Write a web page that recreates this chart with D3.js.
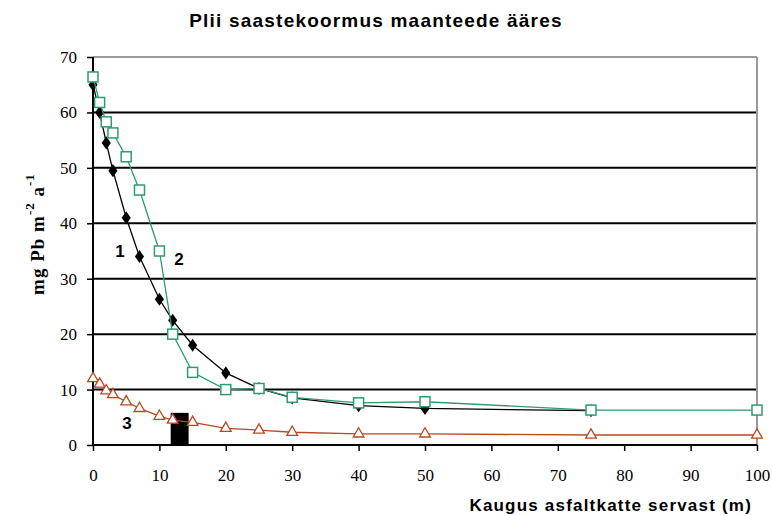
<!DOCTYPE html>
<html>
<head>
<meta charset="utf-8">
<script src="https://cdn.jsdelivr.net/npm/d3@7"></script>
<style>
  body { margin: 0; background: #fff; }
  svg { display: block; }
</style>
</head>
<body>
<svg id="svg" width="772" height="516"></svg>
<script>
// distances (m) and loads for the three series
const x1 = [0, 1, 2, 3, 5, 7, 10, 12, 15, 20, 25, 30, 40, 50, 75]
const y1 = [65, 60, 54.5, 49.5, 41, 34, 26.3, 22.5, 18, 13, 10.2, 8.5, 7.1, 6.6, 6.2]
const x2 = [0, 1, 2, 3, 5, 7, 10, 12, 15, 20, 25, 30, 40, 50, 75, 100]
const y2 = [66.4, 61.8, 58.3, 56.3, 52, 46, 35, 20, 13.1, 10, 10.2, 8.6, 7.6, 7.8, 6.3, 6.3]
const x3 = [0, 1, 2, 3, 5, 7, 10, 12, 15, 20, 25, 30, 40, 50, 75, 100]
const y3 = [12, 11, 9.8, 9.1, 7.8, 6.6, 5.2, 4.5, 4.1, 3, 2.7, 2.3, 2, 2, 1.8, 1.8]
// black block at the road edge
const blockX = [11.7, 14.4]
const blockY = 5.8
const xTicks = [0, 10, 20, 30, 40, 50, 60, 70, 80, 90, 100]
const yTicks = [0, 10, 20, 30, 40, 50, 60, 70]

const svg = d3.select("#svg")
const pLeft = 93, pRight = 757, pTop = 57, pBottom = 445

const x = d3.scaleLinear().domain([0, 100]).range([pLeft, pRight])
const y = d3.scaleLinear().domain([0, 70]).range([pBottom, pTop])

// gridlines
svg.append("g").selectAll("line").data(yTicks.filter(d => d > 0)).enter().append("line")
    .attr("x1", pLeft).attr("x2", pRight)
    .attr("y1", d => y(d)).attr("y2", d => y(d))
    .attr("stroke", d => d === 70 ? "#999" : "#000")
    .attr("stroke-width", 2)

// right border
svg.append("line")
    .attr("x1", pRight).attr("x2", pRight).attr("y1", pTop).attr("y2", pBottom)
    .attr("stroke", "#999").attr("stroke-width", 2)

// axes
const xAxis = svg.append("g").attr("transform", `translate(0,${pBottom})`)
    .call(d3.axisBottom(x).tickValues(xTicks).tickSize(6).tickPadding(18))
const yAxis = svg.append("g").attr("transform", `translate(${pLeft},0)`)
    .call(d3.axisLeft(y).tickValues(yTicks).tickSize(6).tickPadding(10))
;[xAxis, yAxis].forEach(a => {
    a.select(".domain").attr("stroke", "#000").attr("stroke-width", 2)
    a.selectAll(".tick line").attr("stroke", "#000").attr("stroke-width", 1.5)
    a.selectAll("text").attr("font-family", "Liberation Serif, serif")
        .attr("font-size", 17).attr("fill", "#000")
})
xAxis.select(".domain").attr("d", `M${pLeft},0H${pRight}`)
yAxis.select(".domain").attr("d", `M0,${pBottom}V${pTop}`)

// block
svg.append("rect")
    .attr("x", x(blockX[0])).attr("width", x(blockX[1]) - x(blockX[0]))
    .attr("y", y(blockY)).attr("height", y(0) - y(blockY))
    .attr("fill", "#000")

const line = d3.line().x(d => x(d[0])).y(d => y(d[1]))
const s1 = x1.map((d, i) => [d, y1[i]])
const s2 = x2.map((d, i) => [d, y2[i]])
const s3 = x3.map((d, i) => [d, y3[i]])

// series 3 - triangles
svg.append("path").datum(s3).attr("d", line)
    .attr("fill", "none").attr("stroke", "#b8491f").attr("stroke-width", 1.3)
svg.append("g").selectAll("path").data(s3).enter().append("path")
    .attr("d", d3.symbol(d3.symbolTriangle, 50))
    .attr("transform", d => `translate(${x(d[0])},${y(d[1])})`)
    .attr("fill", "#fff").attr("stroke", "#b8491f").attr("stroke-width", 1.3)

// series 1 - diamonds
svg.append("path").datum(s1).attr("d", line)
    .attr("fill", "none").attr("stroke", "#000").attr("stroke-width", 1.3)
svg.append("g").selectAll("path").data(s1).enter().append("path")
    .attr("d", d3.symbol(d3.symbolDiamond, 50))
    .attr("transform", d => `translate(${x(d[0])},${y(d[1])}) scale(1.2,1)`)
    .attr("fill", "#000")

// series 2 - squares
svg.append("path").datum(s2).attr("d", line)
    .attr("fill", "none").attr("stroke", "#2f9c6e").attr("stroke-width", 1.3)
svg.append("g").selectAll("rect").data(s2).enter().append("rect")
    .attr("x", d => x(d[0]) - 5).attr("y", d => y(d[1]) - 5)
    .attr("width", 10).attr("height", 10)
    .attr("fill", "#fff").attr("stroke", "#2f9c6e").attr("stroke-width", 1.5)

// series labels
const labels = [["1", 120, 257], ["2", 179, 265], ["3", 127, 429]]
svg.append("g").selectAll("text").data(labels).enter().append("text")
    .attr("x", d => d[1]).attr("y", d => d[2])
    .attr("text-anchor", "middle")
    .attr("font-family", "Liberation Sans, Arial, sans-serif")
    .attr("font-weight", "bold").attr("font-size", 17)
    .text(d => d[0])

// titles
svg.append("text").attr("x", 376).attr("y", 27).attr("text-anchor", "middle")
    .attr("font-family", "Liberation Sans, Arial, sans-serif")
    .attr("font-weight", "bold").attr("font-size", 19)
    .attr("letter-spacing", 1.2)
    .text("Plii saastekoormus maanteede ääres")

svg.append("text").attr("x", 752).attr("y", 511).attr("text-anchor", "end")
    .attr("font-family", "Liberation Sans, Arial, sans-serif")
    .attr("font-weight", "bold").attr("font-size", 17)
    .attr("letter-spacing", 1.2)
    .text("Kaugus asfaltkatte servast (m)")

const yt = svg.append("text")
    .attr("transform", "translate(44,234) rotate(-90)")
    .attr("text-anchor", "middle")
    .attr("font-family", "Liberation Serif, serif")
    .attr("font-weight", "bold").attr("font-size", 19)
    .attr("letter-spacing", 1)
yt.append("tspan").text("mg Pb m")
yt.append("tspan").attr("dy", -10).attr("font-size", 13).text("-2")
yt.append("tspan").attr("dy", 10).text(" a")
yt.append("tspan").attr("dy", -10).attr("font-size", 13).text("-1")
</script>
</body>
</html>
